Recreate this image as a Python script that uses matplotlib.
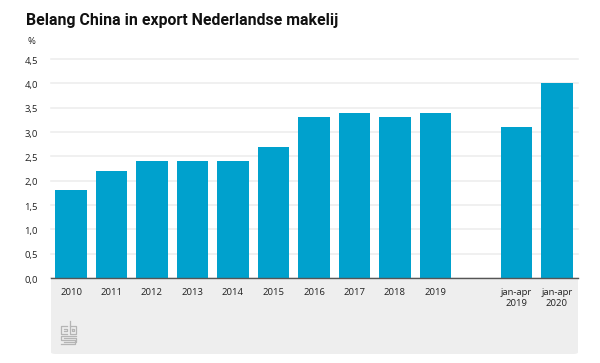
import matplotlib
matplotlib.use('Agg')
import matplotlib.pyplot as plt
from matplotlib.lines import Line2D
from matplotlib.patches import FancyBboxPatch, Rectangle
from matplotlib.transforms import ScaledTranslation

# Aandeel China in export Nederlandse makelij (%)
labels = ['2010', '2011', '2012', '2013', '2014', '2015', '2016', '2017', '2018', '2019',
          'jan-apr\n2019', 'jan-apr\n2020']
posities = [0, 1, 2, 3, 4, 5, 6, 7, 8, 9, 11, 12]
waarden = [1.8, 2.2, 2.4, 2.4, 2.4, 2.7, 3.3, 3.4, 3.3, 3.4, 3.1, 4.0]
y_ticks = [0, 0.5, 1.0, 1.5, 2.0, 2.5, 3.0, 3.5, 4.0, 4.5]
y_labels = ['0,0', '0,5', '1,0', '1,5', '2,0', '2,5', '3,0', '3,5', '4,0', '4,5']

W, H = 600, 363
plt.rcParams['font.family'] = ['Open Sans', 'DejaVu Sans']
fig = plt.figure(figsize=(W / 100, H / 100), dpi=100)

# Grijs vlak onder de as
paneel = FancyBboxPatch((51 / W, (H - 354) / H), 527 / W, 76 / H,
                        boxstyle='round,pad=0,rounding_size=0.008', mutation_aspect=H / W,
                        transform=fig.transFigure, fc='#eeeeee', ec='none', zorder=0)
fig.add_artist(paneel)
fig.add_artist(Rectangle((51 / W, (H - 300) / H), 527 / W, 22 / H,
                         transform=fig.transFigure, fc='#eeeeee', ec='none', zorder=0))

ax = fig.add_axes([51 / W, (H - 278) / H, 527 / W, 219 / H])
ax.patch.set_alpha(0)
ax.bar(posities, waarden, width=0.77, color='#00a1cd', zorder=3)
ax.set_xlim(-0.494, 12.52)
ax.set_ylim(0, 4.5)
ax.set_yticks(y_ticks)
ax.set_yticklabels(y_labels)
ax.set_xticks(posities)
ax.set_xticklabels(labels, linespacing=1.35)
ax.tick_params(axis='both', length=0, labelsize=6.8, labelcolor='#222222')
ax.tick_params(axis='x', pad=7)
ax.tick_params(axis='y', pad=9.5)
ax.grid(axis='y', color='#eeeeee', lw=1.2, zorder=1)
ax.set_axisbelow(True)
for lijn in ax.get_ygridlines():
    lijn.set_clip_on(False)
# y-labels staan iets onder de rasterlijn
zakken = ScaledTranslation(0, -1.2 / 100, fig.dpi_scale_trans)
for t in ax.get_yticklabels():
    t.set_transform(t.get_transform() + zakken)
for s in ['top', 'left', 'right']:
    ax.spines[s].set_visible(False)
ax.spines['bottom'].set_color('#555555')
ax.spines['bottom'].set_linewidth(1.0)
ax.spines['bottom'].set_zorder(4)

fig.text(26 / W, (H - 20) / H, 'Belang China in export Nederlandse makelij',
         fontsize=11.4, fontweight='bold', color='#111111', va='center', family=['Roboto', 'DejaVu Sans'])
fig.text(27 / W, (H - 41) / H, '%', fontsize=6.8, color='#222222', va='center')

# CBS-logo, schets in lijntjes
logo = '#b5b5b5'
logo_lijnen = [
    [(67, 326), (61, 326), (61, 334), (67, 334)],
    [(64, 329), (67, 329), (67, 331), (64, 331)],
    [(70, 321), (70, 334), (76, 334), (76, 326), (70, 326)],
    [(72, 329), (74, 329), (74, 331), (72, 331), (72, 329)],
    [(76, 336), (61, 336), (61, 340), (75, 340), (75, 344), (61, 344)],
    [(64, 338), (76, 338), (76, 342), (64, 342)],
]
for lijn in logo_lijnen:
    fig.add_artist(Line2D([p[0] / W for p in lijn], [(H - p[1]) / H for p in lijn],
                          transform=fig.transFigure, color=logo, lw=0.9))

fig.savefig('out.png', dpi=100)
